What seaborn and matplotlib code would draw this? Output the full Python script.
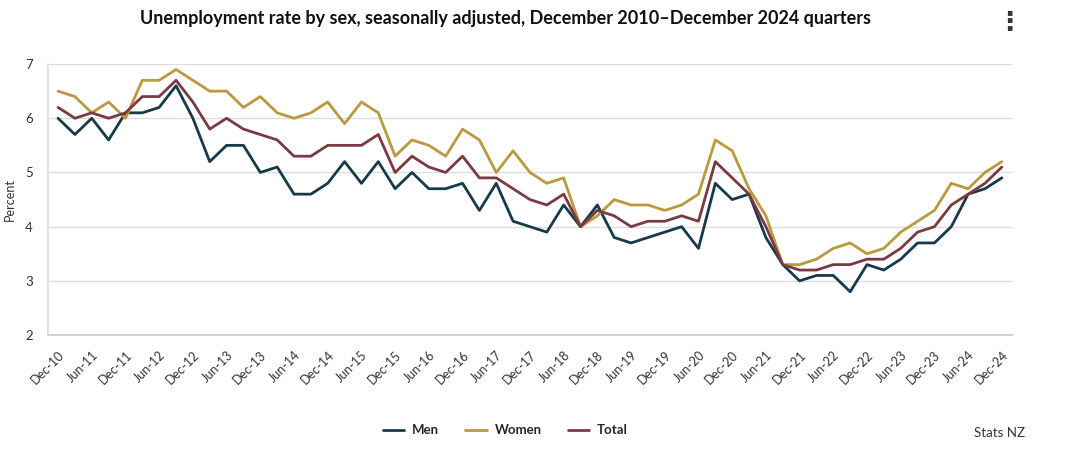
import numpy as np
import pandas as pd
import matplotlib.pyplot as plt
import seaborn as sns
from matplotlib.lines import Line2D

# quarterly, seasonally adjusted, Dec 2010 - Dec 2024
quarters = pd.period_range('2010Q4', '2024Q4', freq='Q')

men = [6.0, 5.7, 6.0, 5.6, 6.1, 6.1, 6.2, 6.6, 6.0, 5.2,
       5.5, 5.5, 5.0, 5.1, 4.6, 4.6, 4.8, 5.2, 4.8, 5.2,
       4.7, 5.0, 4.7, 4.7, 4.8, 4.3, 4.8, 4.1, 4.0, 3.9,
       4.4, 4.0, 4.4, 3.8, 3.7, 3.8, 3.9, 4.0, 3.6, 4.8,
       4.5, 4.6, 3.8, 3.3, 3.0, 3.1, 3.1, 2.8, 3.3, 3.2,
       3.4, 3.7, 3.7, 4.0, 4.6, 4.7, 4.9]

women = [6.5, 6.4, 6.1, 6.3, 6.0, 6.7, 6.7, 6.9, 6.7, 6.5,
         6.5, 6.2, 6.4, 6.1, 6.0, 6.1, 6.3, 5.9, 6.3, 6.1,
         5.3, 5.6, 5.5, 5.3, 5.8, 5.6, 5.0, 5.4, 5.0, 4.8,
         4.9, 4.0, 4.2, 4.5, 4.4, 4.4, 4.3, 4.4, 4.6, 5.6,
         5.4, 4.7, 4.2, 3.3, 3.3, 3.4, 3.6, 3.7, 3.5, 3.6,
         3.9, 4.1, 4.3, 4.8, 4.7, 5.0, 5.2]

total = [6.2, 6.0, 6.1, 6.0, 6.1, 6.4, 6.4, 6.7, 6.3, 5.8,
         6.0, 5.8, 5.7, 5.6, 5.3, 5.3, 5.5, 5.5, 5.5, 5.7,
         5.0, 5.3, 5.1, 5.0, 5.3, 4.9, 4.9, 4.7, 4.5, 4.4,
         4.6, 4.0, 4.3, 4.2, 4.0, 4.1, 4.1, 4.2, 4.1, 5.2,
         4.9, 4.6, 4.0, 3.3, 3.2, 3.2, 3.3, 3.3, 3.4, 3.4,
         3.6, 3.9, 4.0, 4.4, 4.6, 4.8, 5.1]

labels = [q.strftime('%b-%y') for q in quarters]
tick_pos = list(range(0, len(labels), 2))

colores = {'Men': '#173a4b', 'Women': '#b99a3f', 'Total': '#7a3a41'}

df = pd.DataFrame({'i': np.arange(len(labels)), 'Men': men, 'Women': women, 'Total': total})
df = df.melt(id_vars='i', var_name='Serie', value_name='Percent')

sns.set_theme(style='white')
plt.rcParams['font.family'] = ['Lato', 'DejaVu Sans']

fig = plt.figure(figsize=(10.8, 4.51), dpi=100)
ax = fig.add_axes([0.0444, 0.257, 0.8926, 0.601])

sns.lineplot(data=df, x='i', y='Percent', hue='Serie', palette=colores,
             linewidth=2, ax=ax, legend=False)

ax.set_xlim(-0.6, 56.6)
ax.set_ylim(2, 7)
ax.set_yticks([2, 3, 4, 5, 6, 7])
ax.yaxis.grid(True, color='#dddddd', linewidth=1)
ax.set_axisbelow(True)

ax.set_xticks(tick_pos)
ax.set_xticklabels([labels[p] for p in tick_pos], rotation=45, ha='right',
                   rotation_mode='anchor', fontsize=9, color='#333333')
ax.tick_params(axis='x', length=7, width=1, color='#cccccc', pad=3)
ax.tick_params(axis='y', length=0, labelsize=9.5, labelcolor='#333333', pad=11)

for s in ['top', 'right']:
    ax.spines[s].set_visible(False)
ax.spines['left'].set_color('#dddddd')
ax.spines['bottom'].set_color('#cccccc')

ax.set_xlabel('')
ax.set_ylabel('Percent', fontsize=9, color='#333333')
ax.yaxis.set_label_coords(-0.033, 0.5)

fig.text(0.468, 0.96, 'Unemployment rate by sex, seasonally adjusted, December 2010\u2013December 2024 quarters',
         ha='center', va='center', fontsize=13.0, fontweight='bold', color='#111111')
fig.text(0.935, 0.95, '\u22ee', ha='center', va='center', fontsize=19, fontweight='bold',
         color='#333333', family=['DejaVu Sans'])

# legend
handles = [Line2D([0], [0], color=colores[k], linewidth=2) for k in colores]
fig.legend(handles, list(colores), loc='center', bbox_to_anchor=(0.468, 0.046), ncol=3,
           frameon=False, handlelength=1.6, columnspacing=2.0, handletextpad=0.6,
           prop={'weight': 'bold', 'size': 9.5})

fig.text(0.949, 0.04, 'Stats NZ', ha='right', va='center', fontsize=9.5, color='#333333')

plt.savefig('out.png', dpi=100)
